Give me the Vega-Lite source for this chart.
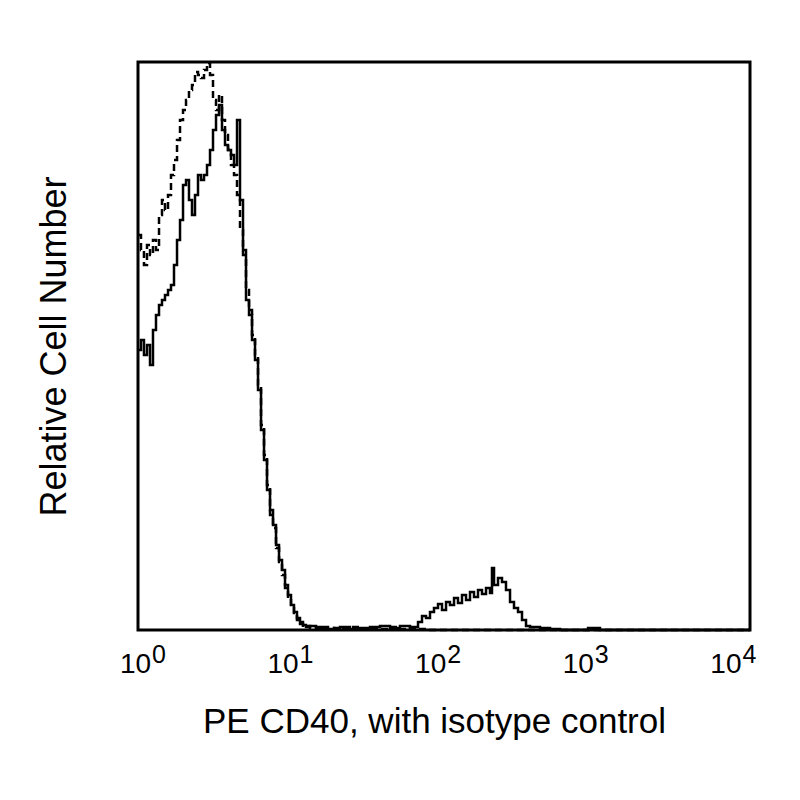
{
  "$schema": "https://vega.github.io/schema/vega-lite/v6.json",
  "description": "Flow cytometry histogram: PE CD40 staining (solid) with isotype control (dashed).",
  "autosize": "none",
  "padding": {"left": 138, "top": 62, "right": 50, "bottom": 170},
  "width": 612,
  "height": 568,
  "background": "white",
  "config": {
    "view": {"stroke": "black", "strokeWidth": 3},
    "font": "Liberation Sans"
  },
  "datasets": {
    "hist": [
      {"x": 1, "n": 280, "series": "CD40"},
      {"x": 1.046, "n": 290, "series": "CD40"},
      {"x": 1.094, "n": 275, "series": "CD40"},
      {"x": 1.145, "n": 285, "series": "CD40"},
      {"x": 1.198, "n": 265, "series": "CD40"},
      {"x": 1.253, "n": 300, "series": "CD40"},
      {"x": 1.311, "n": 315, "series": "CD40"},
      {"x": 1.372, "n": 325, "series": "CD40"},
      {"x": 1.435, "n": 330, "series": "CD40"},
      {"x": 1.501, "n": 335, "series": "CD40"},
      {"x": 1.571, "n": 340, "series": "CD40"},
      {"x": 1.643, "n": 345, "series": "CD40"},
      {"x": 1.719, "n": 365, "series": "CD40"},
      {"x": 1.799, "n": 390, "series": "CD40"},
      {"x": 1.882, "n": 410, "series": "CD40"},
      {"x": 1.969, "n": 445, "series": "CD40"},
      {"x": 2.06, "n": 450, "series": "CD40"},
      {"x": 2.154, "n": 430, "series": "CD40"},
      {"x": 2.254, "n": 415, "series": "CD40"},
      {"x": 2.358, "n": 435, "series": "CD40"},
      {"x": 2.467, "n": 455, "series": "CD40"},
      {"x": 2.581, "n": 450, "series": "CD40"},
      {"x": 2.701, "n": 455, "series": "CD40"},
      {"x": 2.825, "n": 465, "series": "CD40"},
      {"x": 2.956, "n": 480, "series": "CD40"},
      {"x": 3.092, "n": 500, "series": "CD40"},
      {"x": 3.235, "n": 515, "series": "CD40"},
      {"x": 3.385, "n": 525, "series": "CD40"},
      {"x": 3.54, "n": 500, "series": "CD40"},
      {"x": 3.704, "n": 485, "series": "CD40"},
      {"x": 3.875, "n": 480, "series": "CD40"},
      {"x": 4.054, "n": 475, "series": "CD40"},
      {"x": 4.242, "n": 465, "series": "CD40"},
      {"x": 4.438, "n": 510, "series": "CD40"},
      {"x": 4.642, "n": 430, "series": "CD40"},
      {"x": 4.857, "n": 380, "series": "CD40"},
      {"x": 5.081, "n": 330, "series": "CD40"},
      {"x": 5.316, "n": 315, "series": "CD40"},
      {"x": 5.562, "n": 290, "series": "CD40"},
      {"x": 5.818, "n": 270, "series": "CD40"},
      {"x": 6.087, "n": 240, "series": "CD40"},
      {"x": 6.369, "n": 200, "series": "CD40"},
      {"x": 6.663, "n": 170, "series": "CD40"},
      {"x": 6.97, "n": 140, "series": "CD40"},
      {"x": 7.293, "n": 115, "series": "CD40"},
      {"x": 7.63, "n": 105, "series": "CD40"},
      {"x": 7.982, "n": 85, "series": "CD40"},
      {"x": 8.351, "n": 70, "series": "CD40"},
      {"x": 8.737, "n": 60, "series": "CD40"},
      {"x": 9.139, "n": 45, "series": "CD40"},
      {"x": 9.56, "n": 35, "series": "CD40"},
      {"x": 10, "n": 25, "series": "CD40"},
      {"x": 10.46, "n": 18, "series": "CD40"},
      {"x": 10.94, "n": 12, "series": "CD40"},
      {"x": 11.45, "n": 8, "series": "CD40"},
      {"x": 11.98, "n": 5, "series": "CD40"},
      {"x": 12.53, "n": 3, "series": "CD40"},
      {"x": 13.31, "n": 4, "series": "CD40"},
      {"x": 14.57, "n": 2, "series": "CD40"},
      {"x": 15.95, "n": 3, "series": "CD40"},
      {"x": 17.45, "n": 1, "series": "CD40"},
      {"x": 19.1, "n": 2, "series": "CD40"},
      {"x": 20.91, "n": 3, "series": "CD40"},
      {"x": 24.3, "n": 1, "series": "CD40"},
      {"x": 28.25, "n": 2, "series": "CD40"},
      {"x": 32.84, "n": 3, "series": "CD40"},
      {"x": 38.17, "n": 4, "series": "CD40"},
      {"x": 44.37, "n": 2, "series": "CD40"},
      {"x": 51.57, "n": 4, "series": "CD40"},
      {"x": 59.95, "n": 3, "series": "CD40"},
      {"x": 67.64, "n": 8, "series": "CD40"},
      {"x": 71.82, "n": 14, "series": "CD40"},
      {"x": 76.29, "n": 12, "series": "CD40"},
      {"x": 81.01, "n": 18, "series": "CD40"},
      {"x": 86.03, "n": 22, "series": "CD40"},
      {"x": 91.39, "n": 26, "series": "CD40"},
      {"x": 97.03, "n": 20, "series": "CD40"},
      {"x": 103.1, "n": 28, "series": "CD40"},
      {"x": 109.4, "n": 25, "series": "CD40"},
      {"x": 116.3, "n": 32, "series": "CD40"},
      {"x": 123.4, "n": 27, "series": "CD40"},
      {"x": 131.1, "n": 35, "series": "CD40"},
      {"x": 139.3, "n": 30, "series": "CD40"},
      {"x": 147.9, "n": 38, "series": "CD40"},
      {"x": 157.1, "n": 33, "series": "CD40"},
      {"x": 166.8, "n": 40, "series": "CD40"},
      {"x": 177.2, "n": 36, "series": "CD40"},
      {"x": 188.2, "n": 42, "series": "CD40"},
      {"x": 199.8, "n": 37, "series": "CD40"},
      {"x": 205.9, "n": 62, "series": "CD40"},
      {"x": 212.3, "n": 45, "series": "CD40"},
      {"x": 225.4, "n": 52, "series": "CD40"},
      {"x": 239.4, "n": 48, "series": "CD40"},
      {"x": 254.2, "n": 40, "series": "CD40"},
      {"x": 270.1, "n": 28, "series": "CD40"},
      {"x": 286.8, "n": 22, "series": "CD40"},
      {"x": 304.6, "n": 18, "series": "CD40"},
      {"x": 323.5, "n": 10, "series": "CD40"},
      {"x": 343.6, "n": 4, "series": "CD40"},
      {"x": 364.9, "n": 3, "series": "CD40"},
      {"x": 424.1, "n": 2, "series": "CD40"},
      {"x": 493.1, "n": 1, "series": "CD40"},
      {"x": 573, "n": 0, "series": "CD40"},
      {"x": 873.7, "n": 2, "series": "CD40"},
      {"x": 1046, "n": 0, "series": "CD40"},
      {"x": 10000, "n": 0, "series": "CD40"},

      {"x": 1, "n": 395, "series": "Isotype"},
      {"x": 1.046, "n": 380, "series": "Isotype"},
      {"x": 1.094, "n": 365, "series": "Isotype"},
      {"x": 1.145, "n": 385, "series": "Isotype"},
      {"x": 1.198, "n": 375, "series": "Isotype"},
      {"x": 1.253, "n": 390, "series": "Isotype"},
      {"x": 1.311, "n": 380, "series": "Isotype"},
      {"x": 1.372, "n": 415, "series": "Isotype"},
      {"x": 1.435, "n": 430, "series": "Isotype"},
      {"x": 1.501, "n": 420, "series": "Isotype"},
      {"x": 1.571, "n": 435, "series": "Isotype"},
      {"x": 1.643, "n": 455, "series": "Isotype"},
      {"x": 1.719, "n": 470, "series": "Isotype"},
      {"x": 1.799, "n": 490, "series": "Isotype"},
      {"x": 1.882, "n": 510, "series": "Isotype"},
      {"x": 1.969, "n": 520, "series": "Isotype"},
      {"x": 2.06, "n": 530, "series": "Isotype"},
      {"x": 2.154, "n": 540, "series": "Isotype"},
      {"x": 2.254, "n": 545, "series": "Isotype"},
      {"x": 2.358, "n": 558, "series": "Isotype"},
      {"x": 2.467, "n": 555, "series": "Isotype"},
      {"x": 2.581, "n": 552, "series": "Isotype"},
      {"x": 2.701, "n": 560, "series": "Isotype"},
      {"x": 2.825, "n": 567, "series": "Isotype"},
      {"x": 2.956, "n": 555, "series": "Isotype"},
      {"x": 3.092, "n": 530, "series": "Isotype"},
      {"x": 3.235, "n": 520, "series": "Isotype"},
      {"x": 3.385, "n": 535, "series": "Isotype"},
      {"x": 3.54, "n": 510, "series": "Isotype"},
      {"x": 3.704, "n": 495, "series": "Isotype"},
      {"x": 3.875, "n": 480, "series": "Isotype"},
      {"x": 4.054, "n": 465, "series": "Isotype"},
      {"x": 4.242, "n": 455, "series": "Isotype"},
      {"x": 4.438, "n": 435, "series": "Isotype"},
      {"x": 4.642, "n": 400, "series": "Isotype"},
      {"x": 4.857, "n": 375, "series": "Isotype"},
      {"x": 5.081, "n": 340, "series": "Isotype"},
      {"x": 5.316, "n": 320, "series": "Isotype"},
      {"x": 5.562, "n": 295, "series": "Isotype"},
      {"x": 5.818, "n": 275, "series": "Isotype"},
      {"x": 6.087, "n": 245, "series": "Isotype"},
      {"x": 6.369, "n": 205, "series": "Isotype"},
      {"x": 6.663, "n": 175, "series": "Isotype"},
      {"x": 6.97, "n": 145, "series": "Isotype"},
      {"x": 7.293, "n": 120, "series": "Isotype"},
      {"x": 7.63, "n": 102, "series": "Isotype"},
      {"x": 7.982, "n": 82, "series": "Isotype"},
      {"x": 8.351, "n": 68, "series": "Isotype"},
      {"x": 8.737, "n": 55, "series": "Isotype"},
      {"x": 9.139, "n": 42, "series": "Isotype"},
      {"x": 9.56, "n": 32, "series": "Isotype"},
      {"x": 10, "n": 24, "series": "Isotype"},
      {"x": 10.46, "n": 17, "series": "Isotype"},
      {"x": 10.94, "n": 10, "series": "Isotype"},
      {"x": 11.45, "n": 6, "series": "Isotype"},
      {"x": 11.98, "n": 3, "series": "Isotype"},
      {"x": 12.53, "n": 4, "series": "Isotype"},
      {"x": 13.31, "n": 2, "series": "Isotype"},
      {"x": 14.57, "n": 3, "series": "Isotype"},
      {"x": 15.95, "n": 1, "series": "Isotype"},
      {"x": 17.45, "n": 2, "series": "Isotype"},
      {"x": 19.1, "n": 1, "series": "Isotype"},
      {"x": 20.91, "n": 2, "series": "Isotype"},
      {"x": 24.3, "n": 3, "series": "Isotype"},
      {"x": 28.25, "n": 1, "series": "Isotype"},
      {"x": 32.84, "n": 2, "series": "Isotype"},
      {"x": 38.17, "n": 1, "series": "Isotype"},
      {"x": 44.37, "n": 3, "series": "Isotype"},
      {"x": 51.57, "n": 1, "series": "Isotype"},
      {"x": 59.95, "n": 2, "series": "Isotype"},
      {"x": 67.64, "n": 1, "series": "Isotype"},
      {"x": 76.29, "n": 0, "series": "Isotype"},
      {"x": 10000, "n": 0, "series": "Isotype"}
    ],
    "decades": [
      {"v": 1, "exp": "0"},
      {"v": 10, "exp": "1"},
      {"v": 100, "exp": "2"},
      {"v": 1000, "exp": "3"},
      {"v": 10000, "exp": "4"}
    ]
  },
  "layer": [
    {
      "data": {"name": "hist"},
      "mark": {"type": "line", "interpolate": "step-after", "color": "black", "strokeWidth": 2.5},
      "encoding": {
        "x": {
          "field": "x",
          "type": "quantitative",
          "scale": {"type": "log", "domain": [1, 10000], "nice": false},
          "axis": {
            "values": [1, 10, 100, 1000, 10000],
            "labelExpr": "'10'",
            "ticks": false,
            "domain": false,
            "grid": false,
            "labelFont": "Liberation Sans",
            "labelFontSize": 28,
            "labelColor": "black",
            "labelPadding": 20,
            "labelFlush": false,
            "labelOverlap": false,
            "labelOffset": {"expr": "-3 - 5.4 * log(datum.value) / LN10"},
            "title": "PE CD40, with isotype control",
            "titleFont": "Liberation Sans",
            "titleFontSize": 35,
            "titleFontWeight": "normal",
            "titleColor": "black",
            "titleBaseline": "alphabetic",
            "titleY": 102,
            "titleX": 296
          }
        },
        "y": {
          "field": "n",
          "type": "quantitative",
          "scale": {"domain": [0, 568], "nice": false},
          "axis": {
            "ticks": false,
            "labels": false,
            "domain": false,
            "grid": false,
            "title": "Relative Cell Number",
            "titleFont": "Liberation Sans",
            "titleFontSize": 36,
            "titleFontWeight": "normal",
            "titleColor": "black",
            "titlePadding": 65
          }
        },
        "strokeDash": {
          "field": "series",
          "type": "nominal",
          "scale": {"domain": ["CD40", "Isotype"], "range": [[1, 0], [7, 4]]},
          "legend": null
        }
      }
    },
    {
      "data": {"name": "decades"},
      "mark": {"type": "text", "font": "Liberation Sans", "fontSize": 25, "color": "black", "align": "left", "baseline": "alphabetic", "dx": {"expr": "14 - 5.4 * log(datum.v) / LN10"}, "dy": 33},
      "encoding": {
        "x": {"field": "v", "type": "quantitative"},
        "y": {"datum": 0, "type": "quantitative"},
        "text": {"field": "exp"}
      }
    }
  ]
}
